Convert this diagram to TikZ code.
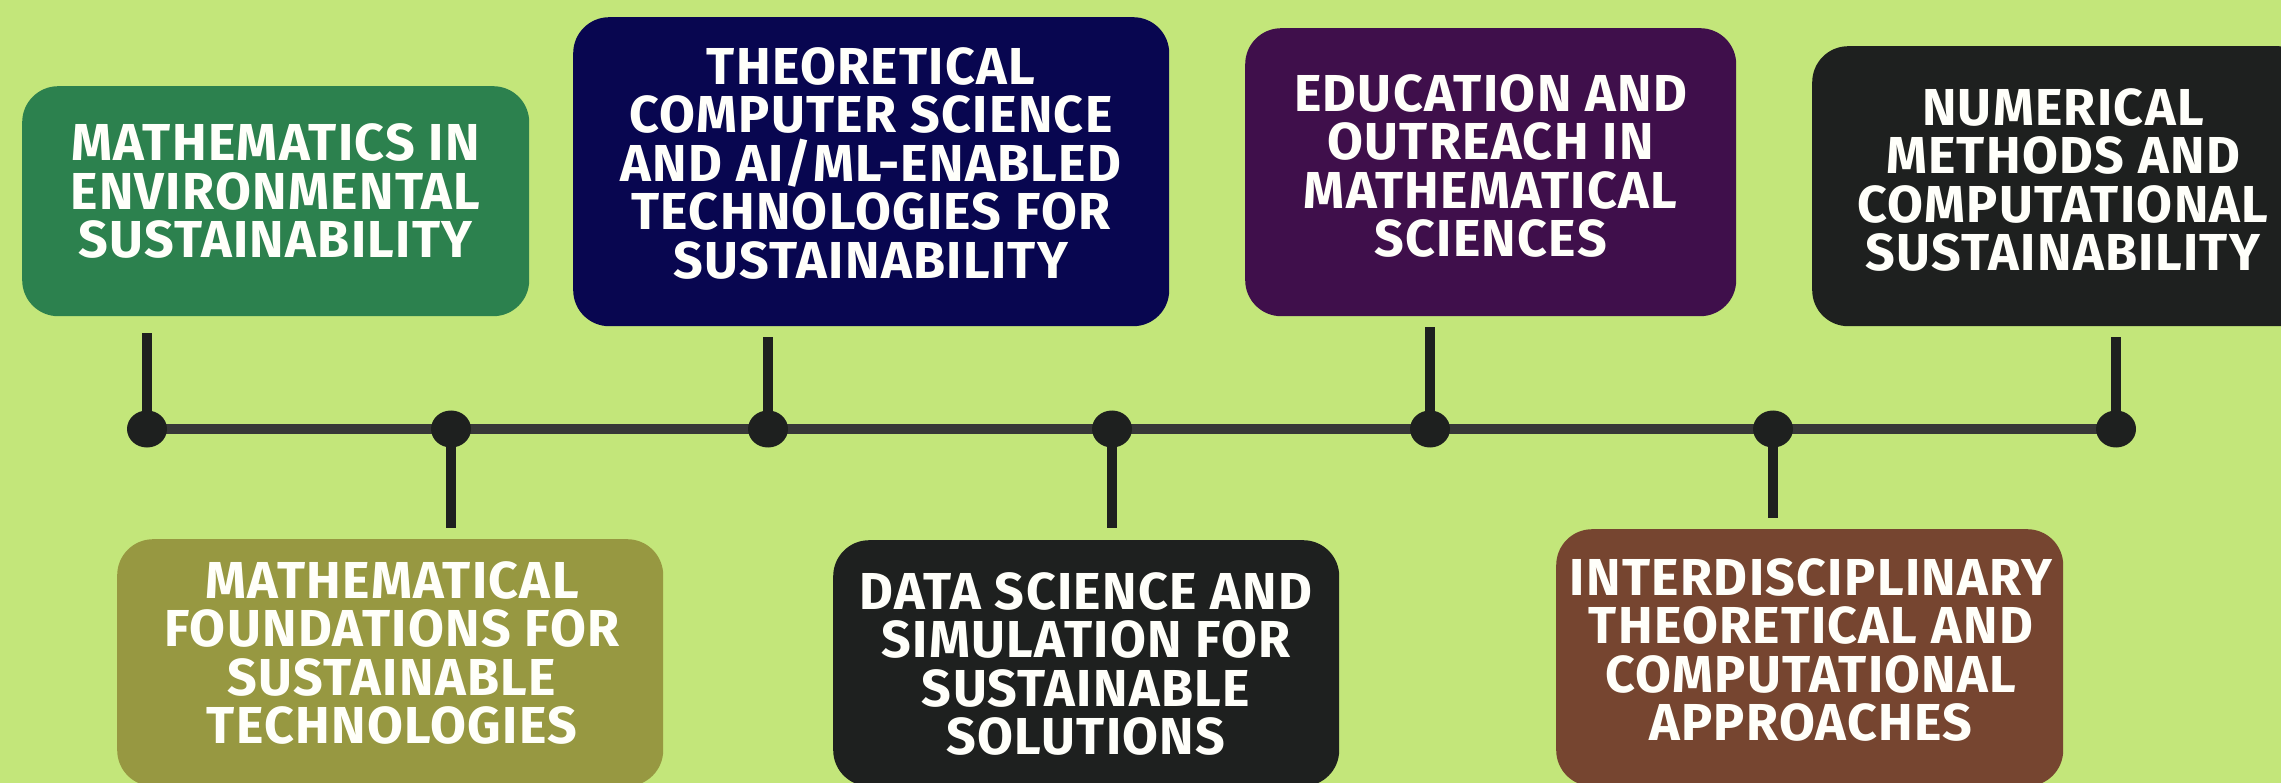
\documentclass[tikz,border=0pt]{standalone}
\usepackage{fontspec}
\setmainfont{Fira Sans}
\newfontfamily\lblfont{Fira Sans}[LetterSpace=2.6]
\usetikzlibrary{shapes.geometric}
\definecolor{bgc}{HTML}{C3E67A}
\definecolor{cgreen}{HTML}{2C814E}
\definecolor{cnavy}{HTML}{080650}
\definecolor{cpurple}{HTML}{3F0F4B}
\definecolor{cdark}{HTML}{1E201F}
\definecolor{colive}{HTML}{979841}
\definecolor{cbrown}{HTML}{764530}
\definecolor{cline}{HTML}{373737}
\definecolor{ctext}{HTML}{FFFFFA}
\begin{document}
\begin{tikzpicture}[x=1pt,y=-1pt,
  panel/.style={rectangle, rounded corners=36pt, inner sep=0pt, anchor=north west},
  label/.style={inner sep=0pt, align=center, text=ctext,
    font=\lblfont\fontsize{52}{48.5}\selectfont\bfseries},
  dot/.style={ellipse, fill=cdark, inner sep=0pt, minimum width=40pt, minimum height=37pt},
  stub/.style={draw=cdark, line width=10.5pt, line cap=butt},
  axis/.style={draw=cline, line width=10pt}]
\useasboundingbox (0,0) rectangle (2281,783);
\fill[bgc] (0,0) rectangle (2281,783);

% panels
\node[panel, fill=cgreen, minimum width=507pt, minimum height=230pt] (b1) at (22,86) {};
\node[panel, fill=cnavy, minimum width=596pt, minimum height=309pt] (b2) at (573,17) {};
\node[panel, fill=cpurple, minimum width=491pt, minimum height=288pt] (b3) at (1245,28) {};
\node[panel, fill=cdark, minimum width=502pt, minimum height=280pt] (b4) at (1812,46) {};
\node[panel, fill=colive, minimum width=546pt, minimum height=247pt] (b5) at (117,539) {};
\node[panel, fill=cdark, minimum width=506pt, minimum height=246pt] (b6) at (833,540) {};
\node[panel, fill=cbrown, minimum width=507pt, minimum height=257pt] (b7) at (1556,529) {};

% labels
\node[label] (t1) at (275.5,191) {MATHEMATICS IN\\ENVIRONMENTAL\\SUSTAINABILITY};
\node[label] (t2) at (871,163) {THEORETICAL\\COMPUTER SCIENCE\\AND AI/ML-ENABLED\\TECHNOLOGIES FOR\\SUSTAINABILITY};
\node[label] (t3) at (1490.5,166) {EDUCATION AND\\OUTREACH IN\\MATHEMATICAL\\SCIENCES};
\node[label] (t4) at (2063,180) {NUMERICAL\\METHODS AND\\COMPUTATIONAL\\SUSTAINABILITY};
\node[label] (t5) at (392,653) {MATHEMATICAL\\FOUNDATIONS FOR\\SUSTAINABLE\\TECHNOLOGIES};
\node[label] (t6) at (1086,664) {DATA SCIENCE AND\\SIMULATION FOR\\SUSTAINABLE\\SOLUTIONS};
\node[label] (t7) at (1811,650) {INTERDISCIPLINARY\\THEORETICAL AND\\COMPUTATIONAL\\APPROACHES};

% timeline points
\coordinate (p1) at (147,429);
\coordinate (p2) at (451,429);
\coordinate (p3) at (768,429);
\coordinate (p4) at (1112,429);
\coordinate (p5) at (1430,429);
\coordinate (p6) at (1773,429);
\coordinate (p7) at (2116,429);

% stub free ends
\coordinate (s1) at (147,333);
\coordinate (s2) at (451,528);
\coordinate (s3) at (768,337);
\coordinate (s4) at (1112,528);
\coordinate (s5) at (1430,327);
\coordinate (s6) at (1773,518);
\coordinate (s7) at (2116,337);

\draw[axis] (p1) -- (p7);
\foreach \i in {1,...,7} {\draw[stub] (p\i) -- (s\i);}
\foreach \i in {1,...,7} {\node[dot] (d\i) at (p\i) {};}
\end{tikzpicture}
\end{document}
